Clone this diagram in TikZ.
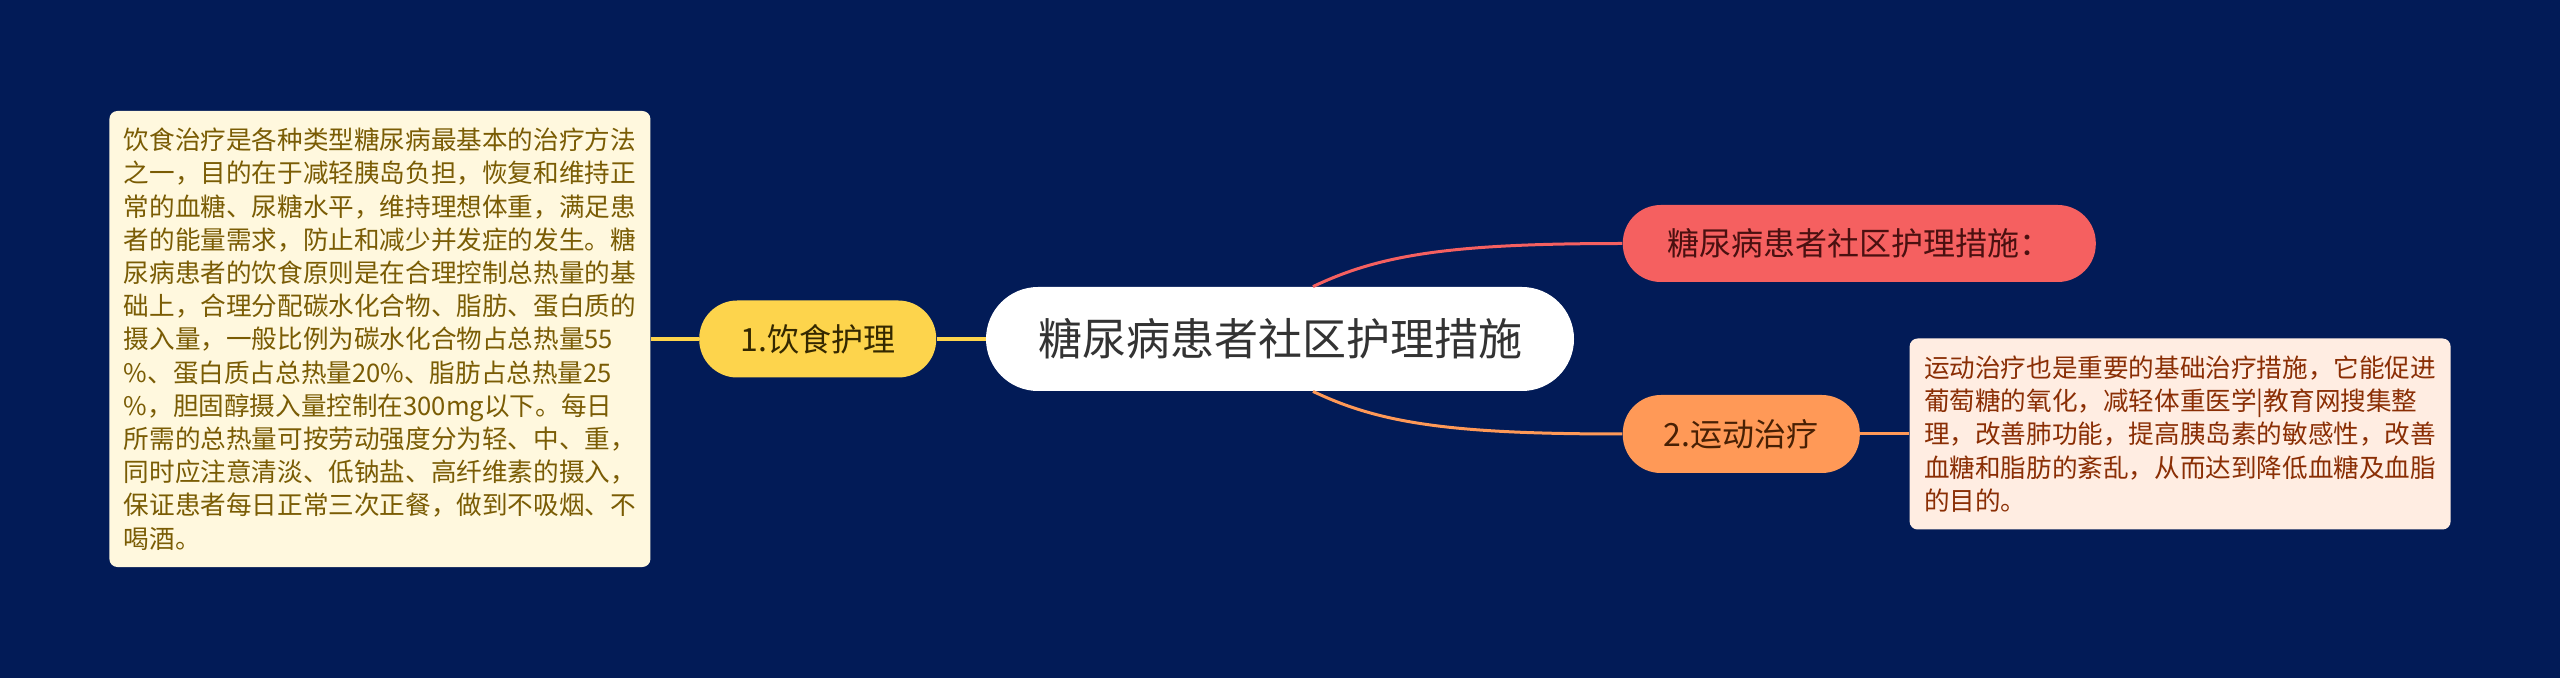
\documentclass[tikz,border=0pt]{standalone}
\usepackage{fontspec}
\setmainfont{Noto Sans CJK SC}
\usepackage{color}
\usepackage{tikz}
\usetikzlibrary{positioning}

\definecolor{bgnavy}{RGB}{2,27,87}
\definecolor{creamfill}{RGB}{255,248,222}
\definecolor{creamtext}{RGB}{122,92,4}
\definecolor{yellownode}{RGB}{253,212,76}
\definecolor{yellowtext}{RGB}{52,40,0}
\definecolor{centertext}{RGB}{51,51,51}
\definecolor{rednode}{RGB}{245,96,96}
\definecolor{redtext}{RGB}{74,16,16}
\definecolor{orangenode}{RGB}{255,153,87}
\definecolor{orangetext}{RGB}{72,32,4}
\definecolor{peachfill}{RGB}{255,237,226}
\definecolor{peachtext}{RGB}{138,46,4}

\begin{document}
\begin{tikzpicture}[node distance=24pt]
  \tikzstyle{topic}=[rectangle,rounded corners=19pt,inner sep=0pt,align=center]
  \tikzstyle{notebox}=[rectangle,rounded corners=4pt,inner xsep=7.25pt,inner ysep=0pt,text width=256pt,align=left,font=\fontsize{12.8pt}{16.6pt}\selectfont]
  \path[use as bounding box,fill=bgnavy] (0,0) rectangle (1280pt,-339pt);

  \node[topic, fill=white, text=centertext, rounded corners=26pt, minimum width=294pt, minimum height=52pt, font=\fontsize{22pt}{26pt}\selectfont] (ctr) at (640pt,-169.5pt) {糖尿病患者社区护理措施};

  % left branch
  \node[topic, fill=yellownode, text=yellowtext, minimum width=118.5pt, minimum height=38.5pt, font=\fontsize{16pt}{19pt}\selectfont, left=24.5pt of ctr] (diet) {1.饮食护理};
  \node[notebox, fill=creamfill, text=creamtext, minimum height=228pt, left=24pt of diet] (dietnote) {饮食治疗是各种类型糖尿病最基本的治疗方法\\之一，目的在于减轻胰岛负担，恢复和维持正\\常的血糖、尿糖水平，维持理想体重，满足患\\者的能量需求，防止和减少并发症的发生。糖\\尿病患者的饮食原则是在合理控制总热量的基\\础上，合理分配碳水化合物、脂肪、蛋白质的\\摄入量，一般比例为碳水化合物占总热量55\\\%、蛋白质占总热量20\%、脂肪占总热量25\\\%，胆固醇摄入量控制在300mg以下。每日\\所需的总热量可按劳动强度分为轻、中、重，\\同时应注意清淡、低钠盐、高纤维素的摄入，\\保证患者每日正常三次正餐，做到不吸烟、不\\喝酒。};

  % right branches
  \node[topic, fill=rednode, text=redtext, minimum width=236.5pt, minimum height=38.5pt, font=\fontsize{16pt}{19pt}\selectfont, right=24pt of ctr, yshift=47.75pt] (title) {糖尿病患者社区护理措施：};
  \node[topic, fill=orangenode, text=orangetext, minimum width=118.5pt, minimum height=39pt, font=\fontsize{16pt}{19pt}\selectfont, right=24pt of ctr, yshift=-47.5pt] (sport) {2.运动治疗};
  \node[notebox, fill=peachfill, text=peachtext, minimum height=95.5pt, right=24.5pt of sport] (sportnote) {运动治疗也是重要的基础治疗措施，它能促进\\葡萄糖的氧化，减轻体重医学|教育网搜集整\\理，改善肺功能，提高胰岛素的敏感性，改善\\血糖和脂肪的紊乱，从而达到降低血糖及血脂\\的目的。};

  % edges
  \draw[yellownode, line width=2pt] (dietnote) -- (diet);
  \draw[yellownode, line width=2pt] (diet) -- (ctr);
  \draw[rednode, line width=1.5pt] ([xshift=16.5pt]ctr.north) .. controls +(33.5pt,16pt) and +(-86pt,0pt) .. (title.west);
  \draw[orangenode, line width=1.5pt] ([xshift=16.5pt]ctr.south) .. controls +(33.5pt,-16pt) and +(-86pt,0pt) .. (sport.west);
  \draw[orangenode, line width=1.5pt] (sport) -- (sportnote);

\end{tikzpicture}
\end{document}
